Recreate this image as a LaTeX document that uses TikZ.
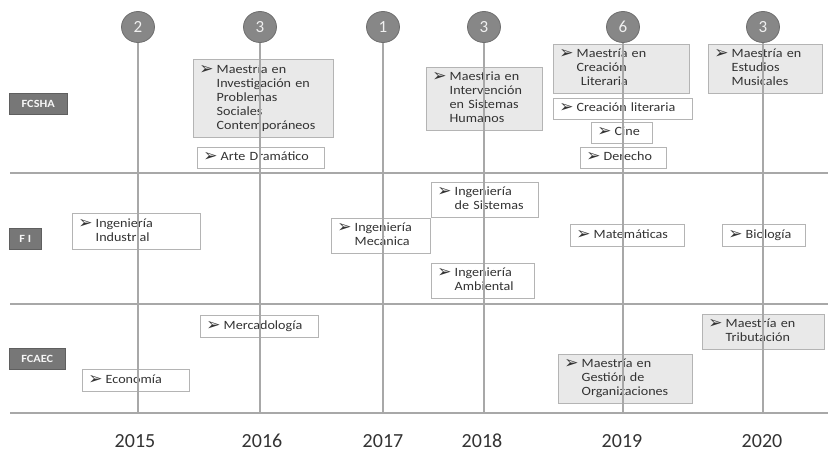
\documentclass[tikz,border=0pt]{standalone}
\usepackage{fontspec}
\setmainfont{Carlito}
\newfontfamily\boxfont[FakeStretch=1.12]{Carlito}
\newfontfamily\bulfont{DejaVu Sans}
\usetikzlibrary{shapes.geometric}
\definecolor{linegray}{HTML}{A8A8A8}
\definecolor{boxborder}{HTML}{B4B4B4}
\definecolor{boxfill}{HTML}{E9E9E9}
\definecolor{circfill}{HTML}{878787}
\definecolor{circdraw}{HTML}{6E6E6E}
\definecolor{labfill}{HTML}{777777}
\definecolor{txt}{HTML}{333333}
\newcommand\bl[1]{\raisebox{-1pt}{\bulfont\fontsize{17}{10}\selectfont ➢}\hspace{3pt}\begin{tabular}[t]{@{}l@{}}#1\end{tabular}}
\tikzset{
  prog/.style={draw=boxborder, line width=0.9pt, fill=white, anchor=north west,
    inner xsep=6pt, inner ysep=2pt, align=left, text=txt,
    font=\boxfont\fontsize{12.6}{14}\selectfont},
  mast/.style={prog, fill=boxfill},
  yearcirc/.style={ellipse, draw=circdraw, line width=0.8pt, fill=circfill, minimum width=33pt,
    minimum height=31pt, inner sep=0pt, text=white!88!gray, font=\fontsize{17}{17}\selectfont},
  fac/.style={fill=labfill, draw=labfill!80!black, line width=0.5pt, anchor=north west, inner sep=0pt,
    text=white!92!gray, font=\boxfont\bfseries\fontsize{11}{11}\selectfont},
  yearlab/.style={text=txt, anchor=base, inner sep=0pt, font=\fontsize{20}{20}\selectfont},
  grid/.style={draw=linegray, line width=1.2pt},
  tline/.style={draw=linegray, line width=1.4pt}
}
\newcommand\pbox[7]{%
  \node[#1, minimum width=#4-#2, minimum height=#5-#3, text width=#4-#2-12] (#6) at (#2,#3) {#7};}
\begin{document}
\begin{tikzpicture}[x=1pt,y=-1pt]
\useasboundingbox (0,0) rectangle (828,451);
% horizontal lines
\coordinate (h1l) at (10,173); \coordinate (h1r) at (828,173);
\coordinate (h2l) at (10,304); \coordinate (h2r) at (828,304);
\coordinate (h3l) at (10,413); \coordinate (h3r) at (828,413);
\draw[grid] (h1l) -- (h1r);
\draw[grid] (h2l) -- (h2r);
\draw[grid] (h3l) -- (h3r);
% faculty labels
\node[fac, minimum width=58, minimum height=21] (fcsha) at (9,93) {FCSHA};
\node[fac, minimum width=32, minimum height=21] (fi) at (9,228) {F I};
\node[fac, minimum width=56, minimum height=21] (fcaec) at (9,348) {FCAEC};
% circles
\node[yearcirc] (c2015) at (138,27) {2};
\node[yearcirc] (c2016) at (260,27) {3};
\node[yearcirc] (c2017) at (383,27) {1};
\node[yearcirc] (c2018) at (484,27) {3};
\node[yearcirc] (c2019) at (623,27) {6};
\node[yearcirc] (c2020) at (763,27) {3};
% programme boxes
\pbox{mast}{193}{59}{333}{137}{mInv}{\bl{Maestría en\\Investigación en\\Problemas\\Sociales\\Contemporáneos}}
\pbox{prog}{197}{147}{324}{168}{arte}{\bl{Arte Dramático}}
\pbox{prog}{72}{213}{200}{249}{indus}{\bl{Ingeniería\\Industrial}}
\pbox{prog}{331}{218}{430}{253}{meca}{\bl{Ingeniería\\Mecánica}}
\pbox{prog}{200}{315}{318}{337}{merc}{\bl{Mercadología}}
\pbox{prog}{82}{369}{189}{391}{econ}{\bl{Economía}}
\pbox{mast}{426}{67}{542}{130}{mInt}{\bl{Maestria en\\Intervención\\en Sistemas\\Humanos}}
\pbox{mast}{553}{44}{689}{93}{mCre}{\bl{Maestría en\\Creación\\\ Literaria}}
\pbox{prog}{553}{98}{692}{119}{creLit}{\bl{Creación literaria}}
\pbox{prog}{591}{122}{652}{143}{cine}{\bl{Cine}}
\pbox{prog}{580}{147}{666}{168}{derecho}{\bl{Derecho}}
\pbox{mast}{708}{44}{822}{93}{mEst}{\bl{Maestría en\\Estudios\\Musicales}}
\pbox{prog}{431}{182}{538}{217}{sist}{\bl{Ingeniería\\de Sistemas}}
\pbox{prog}{431}{263}{534}{298}{amb}{\bl{Ingeniería\\Ambiental}}
\pbox{prog}{570}{224}{684}{246}{mat}{\bl{Matemáticas}}
\pbox{prog}{722}{224}{805}{246}{bio}{\bl{Biología}}
\pbox{mast}{702}{314}{824}{349}{mTrib}{\bl{Maestría en\\Tributación}}
\pbox{mast}{558}{354}{692}{403}{mGes}{\bl{Maestría en\\Gestión de\\Organizaciones}}
% timeline verticals (drawn over the boxes)
\foreach \c in {c2015,c2016,c2017,c2018,c2019,c2020}
  \draw[tline] (\c.south) -- (\c.south |- h3l);
% years
\node[yearlab] (y2015) at (135,447) {2015};
\node[yearlab] (y2016) at (262,447) {2016};
\node[yearlab] (y2017) at (383,447) {2017};
\node[yearlab] (y2018) at (482,447) {2018};
\node[yearlab] (y2019) at (622,447) {2019};
\node[yearlab] (y2020) at (762,447) {2020};
\end{tikzpicture}
\end{document}
